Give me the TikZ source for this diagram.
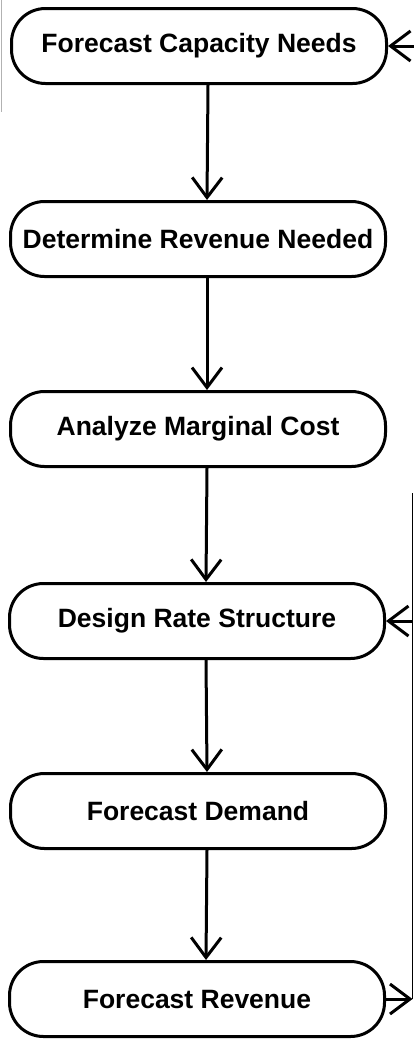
\documentclass[tikz,border=0pt]{standalone}
\usepackage{fontspec}
\setmainfont{Liberation Sans}
\usetikzlibrary{arrows.meta}
\begin{document}
\begin{tikzpicture}[x=1pt,y=-1pt,
  stepbox/.style={draw, line width=3pt, rounded corners=34pt, minimum width=375pt, minimum height=75pt, inner sep=0pt, font=\fontsize{26.5}{30}\selectfont\bfseries},
  arr/.style={line width=3pt, -{Straight Barb[length=20pt,width=30pt,line width=3pt]}},
  loopline/.style={line width=1.5pt}]
\useasboundingbox (0,0) rectangle (414,1039);
\draw[gray!60, line width=0.8pt] (1,0) -- (1,112);
\node[stepbox] (n1) at (199,46) {Forecast Capacity Needs};
\node[stepbox] (n2) at (198,239) {Determine Revenue Needed};
\node[stepbox] (n3) at (198,429) {Analyze Marginal Cost};
\node[stepbox] (n4) at (197,621) {Design Rate Structure};
\node[stepbox] (n5) at (198,811) {Forecast Demand};
\node[stepbox] (n6) at (197,999) {Forecast Revenue};
\foreach \a/\b in {n1/n2,n2/n3,n3/n4,n4/n5,n5/n6}
  \draw[arr] ([xshift=9pt]\a.south) -- ([xshift=9pt]\b.north);
\coordinate (tr) at (416,46);
\draw[arr] (tr) -- (n1.east);
\coordinate (lb) at (412.5,999);
\coordinate (lm) at (412.5,621);
\coordinate (lt) at (412.5,493);
\draw[arr] (n6.east) -- (lb);
\draw[loopline] (lb) -- (lt);
\draw[arr] (lm) -- (n4.east);
\end{tikzpicture}
\end{document}
